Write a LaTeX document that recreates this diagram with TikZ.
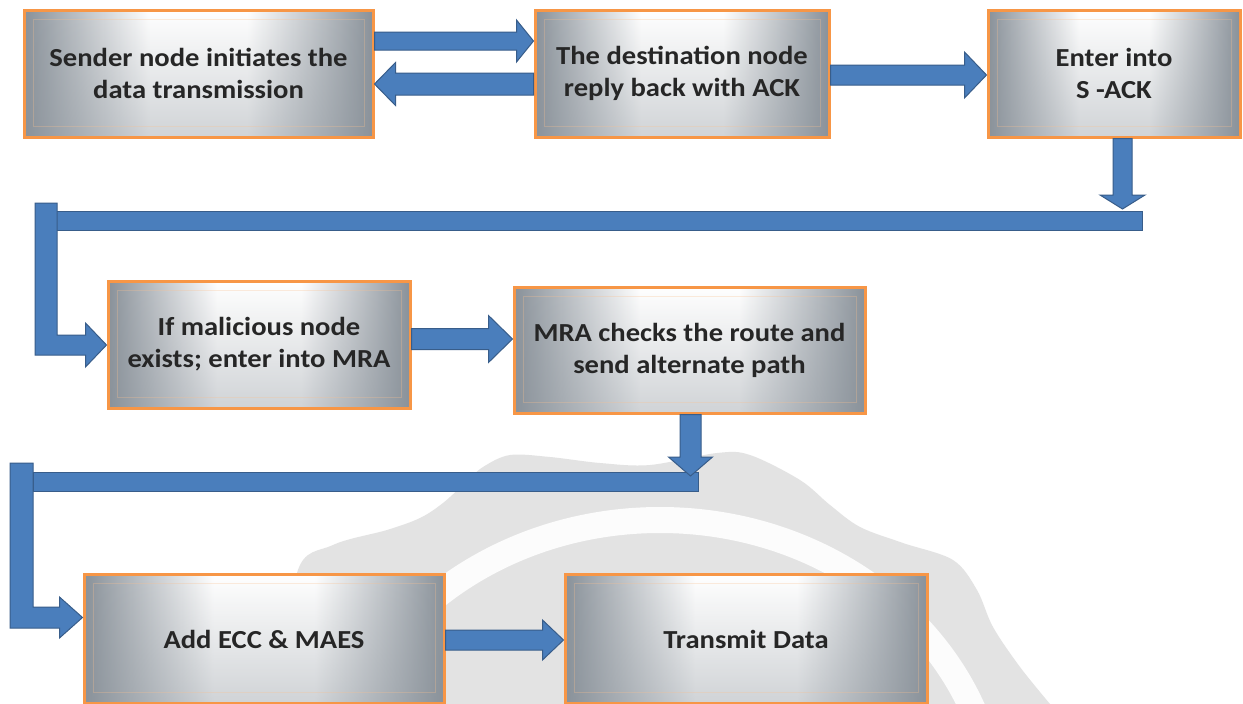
\documentclass[tikz,border=0pt]{standalone}
\usepackage{fontspec}
\setmainfont{Carlito}
\newfontfamily\stepfont{Carlito}[FakeStretch=1.1]
\usetikzlibrary{calc,fadings}

\definecolor{arrowfill}{RGB}{74,126,188}
\definecolor{arrowline}{RGB}{56,93,138}
\definecolor{boxline}{RGB}{247,150,70}
\definecolor{boxedge}{RGB}{138,146,154}
\definecolor{marksoft}{RGB}{227,227,227}
\definecolor{steptext}{RGB}{38,38,38}

\tikzset{
  stepbox/.style={draw=boxline, line width=3pt, fill=white,
    font=\stepfont\bfseries\fontsize{26}{32}\selectfont, text=steptext, align=center,
    path picture={
      \coordinate (pbsw) at (path picture bounding box.south west);
      \coordinate (pbse) at (path picture bounding box.south east);
      \coordinate (pbnw) at (path picture bounding box.north west);
      \coordinate (pbne) at (path picture bounding box.north east);
      \fill[left color=boxedge, right color=white]
        (pbsw) rectangle ($(pbnw)!0.36!(pbne)$);
      \fill[left color=white, right color=boxedge]
        ($(pbsw)!0.64!(pbse)$) rectangle (pbne);
      \fill[boxedge, opacity=0.4, path fading=north] (pbsw) rectangle (pbne);
      \draw[boxline!60, line width=1pt, opacity=0.3]
        ([shift={(9pt,11pt)}]pbsw) rectangle ([shift={(-9pt,-9pt)}]pbne);
    }},
  blockarrow/.style={fill=arrowfill, draw=arrowline, line width=1pt, line join=miter},
}

% right-pointing block arrow: start, tip, shaft half width, head half width, head length
\newcommand\rarrow[5]{%
  \filldraw[blockarrow] ([yshift=#3]#1) -- ([xshift=-#5,yshift=#3]#2) -- ([xshift=-#5,yshift=#4]#2)
    -- (#2) -- ([xshift=-#5,yshift=-#4]#2) -- ([xshift=-#5,yshift=-#3]#2) -- ([yshift=-#3]#1) -- cycle;}
% left-pointing block arrow
\newcommand\larrow[5]{%
  \filldraw[blockarrow] ([yshift=#3]#1) -- ([xshift=#5,yshift=#3]#2) -- ([xshift=#5,yshift=#4]#2)
    -- (#2) -- ([xshift=#5,yshift=-#4]#2) -- ([xshift=#5,yshift=-#3]#2) -- ([yshift=-#3]#1) -- cycle;}
% downward block arrow
\newcommand\darrow[5]{%
  \filldraw[blockarrow] ([xshift=#3]#1) -- ([xshift=#3,yshift=#5]#2) -- ([xshift=#4,yshift=#5]#2)
    -- (#2) -- ([xshift=-#4,yshift=#5]#2) -- ([xshift=-#3,yshift=#5]#2) -- ([xshift=-#3]#1) -- cycle;}

\newcommand\sealoutline{plot[smooth, tension=0.55] coordinates {
    (288,704) (297,573) (333,545) (387,530) (420,518) (443,503) (465,483) (483,467)
    (510,455) (550,457) (600,463) (650,465) (717,453) (750,455) (800,480) (830,505)
    (860,527) (903,543) (953,560) (977,590) (993,627) (1020,667) (1050,704)} -- cycle}

\begin{document}
\begin{tikzpicture}[x=1pt, y=-1pt]
\useasboundingbox[fill=white] (0,0) rectangle (1243,704);

% faint seal in the background
\begin{scope}
  \fill[marksoft] \sealoutline;
  \clip \sealoutline;
  \draw[white, line width=26pt, opacity=0.9] (660,822) ellipse [x radius=337, y radius=302];
\end{scope}

% process steps
\node[stepbox, minimum width=349pt, minimum height=127pt] (s) at (198.5,73.5)
  {Sender node initiates the\\data transmission};
\node[stepbox, minimum width=294pt, minimum height=127pt] (d) at (682,73.5)
  {The destination node\\reply back with ACK};
\node[stepbox, minimum width=252pt, minimum height=127pt] (e) at (1114,73.5)
  {Enter into\\S -ACK};
\node[stepbox, minimum width=302pt, minimum height=127pt] (m) at (259,344.5)
  {If malicious node\\exists; enter into MRA};
\node[stepbox, minimum width=351pt, minimum height=126pt] (r) at (689.5,350)
  {MRA checks the route and\\send alternate path};
\node[stepbox, minimum width=360pt, minimum height=129pt] (c) at (264,639)
  {Add ECC \& MAES};
\node[stepbox, minimum width=362pt, minimum height=129pt] (t) at (746,639)
  {Transmit Data};

% sender <-> destination
\coordinate (a1s) at ([yshift=32.5pt]s.east);
\coordinate (a1e) at (a1s -| d.west);
\rarrow{a1s}{a1e}{9pt}{21pt}{17pt}
\coordinate (a2s) at ([yshift=-10.5pt]d.west);
\coordinate (a2e) at (a2s -| s.east);
\larrow{a2s}{a2e}{11pt}{21.5pt}{21pt}

% destination -> S-ACK
\coordinate (a3s) at ([yshift=-1.5pt]d.east);
\coordinate (a3e) at (a3s -| e.west);
\rarrow{a3s}{a3e}{10pt}{23pt}{22pt}

% S-ACK -> malicious-node check
\coordinate (b1r) at (1142,220.5);
\coordinate (b1l) at (56,220.5);
\filldraw[blockarrow] ([yshift=9.5pt]b1l) rectangle ([yshift=-9.5pt]b1r);
\coordinate (a4s) at ([xshift=8.5pt]e.south);
\coordinate (a4e) at (a4s |- 0,209);
\darrow{a4s}{a4e}{9.5pt}{22.5pt}{14pt}
\coordinate (l1top) at (46,203);
\coordinate (l1tip) at (m.west |- 0,345);
\coordinate (l1c) at (l1tip -| l1top);
\filldraw[blockarrow] ([xshift=-11pt]l1top) -- ([xshift=11pt]l1top) -- ([xshift=11pt,yshift=10pt]l1c)
  -- ([xshift=-21pt,yshift=10pt]l1tip) -- ([xshift=-21pt,yshift=22pt]l1tip) -- (l1tip)
  -- ([xshift=-21pt,yshift=-22pt]l1tip) -- ([xshift=-21pt,yshift=-10pt]l1tip)
  -- ([xshift=-11pt,yshift=-10pt]l1c) -- cycle;

% malicious-node check -> MRA
\coordinate (a5s) at ([yshift=5.5pt]m.east);
\coordinate (a5e) at (a5s -| r.west);
\rarrow{a5s}{a5e}{10.5pt}{23.5pt}{24pt}

% MRA -> ECC & MAES
\coordinate (b2r) at (698,481.5);
\coordinate (b2l) at (33,481.5);
\filldraw[blockarrow] ([yshift=9.5pt]b2l) rectangle ([yshift=-9.5pt]b2r);
\coordinate (a6s) at ([xshift=1pt]r.south);
\coordinate (a6e) at (a6s |- 0,476);
\darrow{a6s}{a6e}{10.5pt}{22pt}{19pt}
\coordinate (l2top) at (21.5,463);
\coordinate (l2tip) at (c.west |- 0,617.5);
\coordinate (l2c) at (l2tip -| l2top);
\filldraw[blockarrow] ([xshift=-11.5pt]l2top) -- ([xshift=11.5pt]l2top) -- ([xshift=11.5pt,yshift=10.5pt]l2c)
  -- ([xshift=-23pt,yshift=10.5pt]l2tip) -- ([xshift=-23pt,yshift=20.5pt]l2tip) -- (l2tip)
  -- ([xshift=-23pt,yshift=-20.5pt]l2tip) -- ([xshift=-23pt,yshift=-10.5pt]l2tip)
  -- ([xshift=-11.5pt,yshift=-10.5pt]l2c) -- cycle;

% ECC & MAES -> transmit
\coordinate (a7s) at ([yshift=-1pt]c.east);
\coordinate (a7e) at (a7s -| t.west);
\rarrow{a7s}{a7e}{10pt}{20pt}{21pt}
\end{tikzpicture}
\end{document}
